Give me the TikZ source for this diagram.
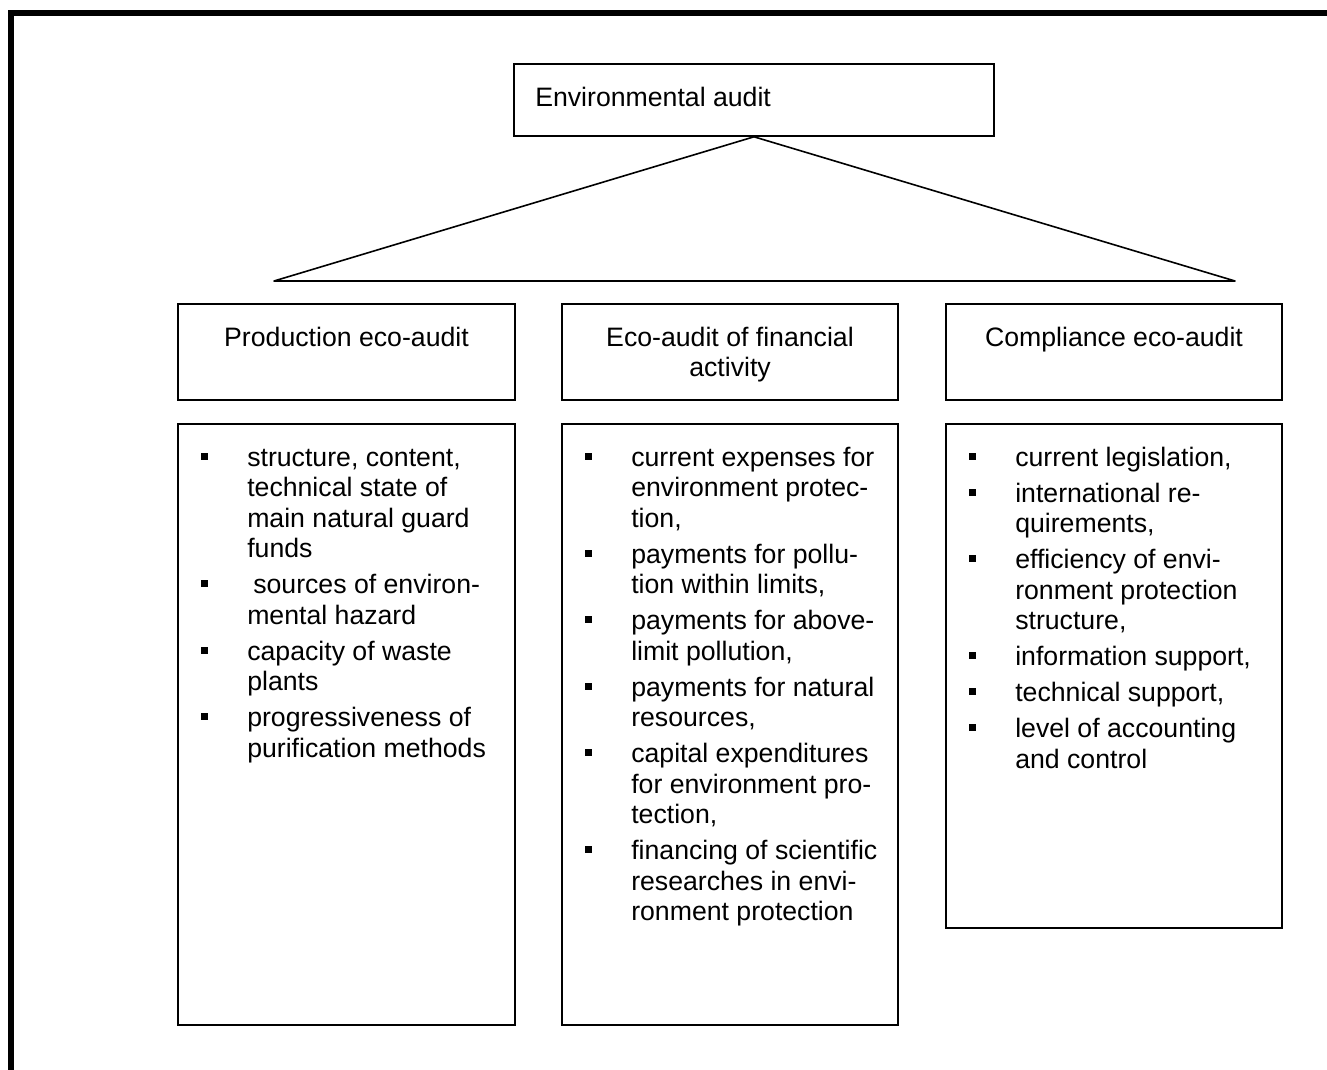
\documentclass[tikz,border=0pt]{standalone}
\usepackage{fontspec}
\setmainfont{Liberation Sans}
\usetikzlibrary{fit}
\begin{document}
\begin{tikzpicture}[x=0.75pt,y=-0.75pt,
  box/.style={draw, line width=1.2pt, inner sep=0pt},
  edge/.style={line width=1.2pt, line join=round},
  frame/.style={fill=black},
  txt/.style={inner sep=0pt, font=\fontsize{20}{24}\selectfont},
  lst/.style={txt, anchor=base west},
  bul/.style={fill=black, inner sep=0pt, minimum size=5.25pt}]
\useasboundingbox (0,0) rectangle (1327,1070);

% heavy page frame (top and left edges)
\fill[frame] (8,10) rectangle (1327,16);
\fill[frame] (8,10) rectangle (14,1070);

% line helper: name, x, baseline y, text
\newcommand\li[4]{\node[lst] (#1) at (#2,#3) {#4};}
% bullet helper: name, x, baseline y
\newcommand\bu[3]{\node[bul] (#1) at (#2,#3-10) {};}

% root
\node[box, fit={(514,64)(994,136)}] (root) {};
\node[txt, anchor=base west] (roottxt) at (535,107) {Environmental audit};

% branching triangle
\coordinate (bl) at (274,281);
\coordinate (br) at (1235,281);
\draw[edge] (root.south) -- (bl) -- (br) -- cycle;

% header boxes
\node[box, fit={(178,304)(515,400)}] (hA) {};
\node[box, fit={(562,304)(898,400)}] (hB) {};
\node[box, fit={(946,304)(1282,400)}] (hC) {};
\node[txt, anchor=base] (hAt) at (346.5,346) {Production eco-audit};
\node[txt, anchor=base] (hBt1) at (730,346) {Eco-audit of financial};
\node[txt, anchor=base] (hBt2) at (730,376) {activity};
\node[txt, anchor=base] (hCt) at (1114,346) {Compliance eco-audit};

% content boxes
\node[box, fit={(178,424)(515,1025)}] (cA) {};
\node[box, fit={(562,424)(898,1025)}] (cB) {};
\node[box, fit={(946,424)(1282,928)}] (cC) {};

% production eco-audit items
\bu{bA1}{204.5}{466}
\li{a1}{247}{466}{structure, content,}
\li{a2}{247}{496.5}{technical state of}
\li{a3}{247}{527}{main natural guard}
\li{a4}{247}{557.5}{funds}
\bu{bA2}{204.5}{593.5}
\li{a5}{253}{593.5}{sources of environ-}
\li{a6}{247}{624}{mental hazard}
\bu{bA3}{204.5}{660}
\li{a7}{247}{660}{capacity of waste}
\li{a8}{247}{690.5}{plants}
\bu{bA4}{204.5}{726.5}
\li{a9}{247}{726.5}{progressiveness of}
\li{a10}{247}{757}{purification methods}

% financial activity items
\bu{bB1}{588.5}{466}
\li{b1}{631}{466}{current expenses for}
\li{b2}{631}{496.5}{environment protec-}
\li{b3}{631}{527}{tion,}
\bu{bB2}{588.5}{563}
\li{b4}{631}{563}{payments for pollu-}
\li{b5}{631}{593.5}{tion within limits,}
\bu{bB3}{588.5}{629.5}
\li{b6}{631}{629.5}{payments for above-}
\li{b7}{631}{660}{limit pollution,}
\bu{bB4}{588.5}{696}
\li{b8}{631}{696}{payments for natural}
\li{b9}{631}{726.5}{resources,}
\bu{bB5}{588.5}{762.5}
\li{b10}{631}{762.5}{capital expenditures}
\li{b11}{631}{793}{for environment pro-}
\li{b12}{631}{823.5}{tection,}
\bu{bB6}{588.5}{859.5}
\li{b13}{631}{859.5}{financing of scientific}
\li{b14}{631}{890}{researches in envi-}
\li{b15}{631}{920.5}{ronment protection}

% compliance items
\bu{bC1}{972.5}{466}
\li{c1}{1015}{466}{current legislation,}
\bu{bC2}{972.5}{502}
\li{c2}{1015}{502}{international re-}
\li{c3}{1015}{532.5}{quirements,}
\bu{bC3}{972.5}{568.5}
\li{c4}{1015}{568.5}{efficiency of envi-}
\li{c5}{1015}{599}{ronment protection}
\li{c6}{1015}{629.5}{structure,}
\bu{bC4}{972.5}{665.5}
\li{c7}{1015}{665.5}{information support,}
\bu{bC5}{972.5}{701.5}
\li{c8}{1015}{701.5}{technical support,}
\bu{bC6}{972.5}{737.5}
\li{c9}{1015}{737.5}{level of accounting}
\li{c10}{1015}{768}{and control}
\end{tikzpicture}
\end{document}
